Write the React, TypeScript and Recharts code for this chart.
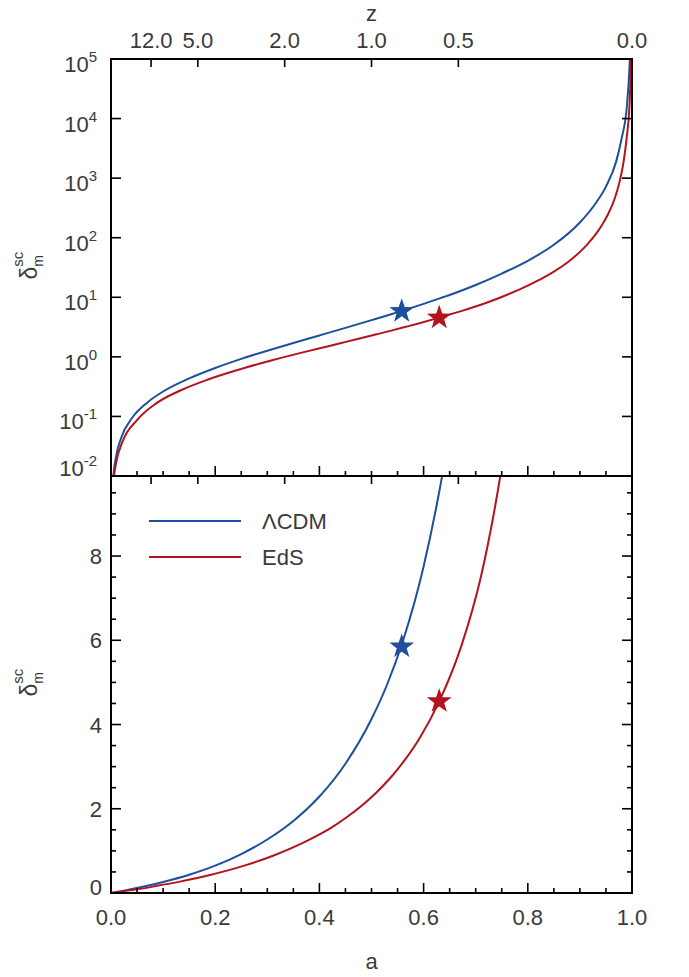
import React from 'react';
import { ComposedChart, Line, Scatter, XAxis, YAxis, Legend } from 'recharts';

const W = 689;
const H = 977;
// plot box (both panels share the x range)
const L = 111;
const R = 632;
const T = 59;
const M = 476;
const B = 893;

const FONT = '"Liberation Sans", Arial, Helvetica, sans-serif';
const INK = '#3a3a3a';
const BLUE = '#1f4e9d';
const RED = '#b3131c';

// scale factor a and nonlinear overdensity delta_m^sc
const lcdmA = [0.002, 0.004, 0.01, 0.02, 0.04, 0.07, 0.1, 0.15, 0.2, 0.25, 0.3, 0.35, 0.4, 0.45, 0.5, 0.53, 0.56, 0.6, 0.637, 0.65, 0.7, 0.75, 0.8, 0.85, 0.9, 0.93, 0.95, 0.97, 0.98, 0.99, 0.995, 0.998];
const lcdmDelta = [0.0043, 0.0087, 0.0217, 0.0448, 0.093, 0.172, 0.262, 0.434, 0.65, 0.925, 1.27, 1.71, 2.29, 3.07, 4.13, 4.95, 5.97, 7.75, 10.0, 10.95, 16.1, 25, 41, 76, 180, 375, 720, 1950, 4600, 15500, 65000, 300000];

const edsA = [0.002, 0.005, 0.01, 0.022, 0.05, 0.086, 0.132, 0.186, 0.259, 0.311, 0.38, 0.423, 0.451, 0.508, 0.536, 0.564, 0.592, 0.63, 0.672, 0.71, 0.722, 0.757, 0.8, 0.831, 0.85, 0.876, 0.899, 0.913, 0.943, 0.953, 0.966, 0.976, 0.984, 0.99, 0.995, 0.9977, 0.9983];
const edsDelta = [0.0034, 0.0084, 0.0169, 0.0376, 0.087, 0.164, 0.27, 0.416, 0.662, 0.885, 1.26, 1.55, 1.785, 2.37, 2.73, 3.16, 3.67, 4.55, 5.85, 7.51, 8.19, 10.73, 15.7, 21.5, 26.9, 38.4, 56.7, 75, 166, 238, 434, 857, 1911, 4934, 15460, 65500, 117700];

// turnaround markers
const starA = [0.558, 0.63];
const starDelta = [5.85, 4.55];

const seriesNames = ['ΛCDM', 'EdS'];

// axis ticks
const zLabels = [12, 5, 2, 1, 0.5, 0];
const logTicks = [0.01, 0.1, 1, 10, 100, 1000, 10000, 100000];
const aTicks = Array.from({ length: 21 }, (_, i) => i * 0.05);
const linTicks = Array.from({ length: 20 }, (_, i) => i * 0.5);

const zTicks = zLabels.map((z) => 1 / (1 + z));
const lcdm = lcdmA.map((a, i) => ({ a, d: lcdmDelta[i] }));
const eds = edsA.map((a, i) => ({ a, d: edsDelta[i] }));
const lcdmStar = [{ a: starA[0], d: starDelta[0] }];
const edsStar = [{ a: starA[1], d: starDelta[1] }];

const axisLine = { stroke: '#000', strokeWidth: 2, strokeLinecap: 'square' as const };

const ATick = ({ x, payload, base, dir, showLabel }: any) => {
    const v = payload.value;
    const major = Math.abs(v * 5 - Math.round(v * 5)) < 1e-6;
    const len = major ? 10 : 5;
    return (
        <g>
            <line x1={x} x2={x} y1={base} y2={base + dir * len} stroke="#000" strokeWidth={1.6} />
            {showLabel && major && (
                <text x={x} y={base + 32} textAnchor="middle" fontSize={22} fontFamily={FONT} fill={INK}>
                    {v.toFixed(1)}
                </text>
            )}
        </g>
    );
};

const ZTick = ({ x, payload, base, dir, showLabel }: any) => (
    <g>
        <line x1={x} x2={x} y1={base} y2={base + dir * 8} stroke="#000" strokeWidth={1.6} />
        {showLabel && (
            <text x={x} y={base - 11} textAnchor="middle" fontSize={22} fontFamily={FONT} fill={INK}>
                {(1 / payload.value - 1).toFixed(1)}
            </text>
        )}
    </g>
);

const LogTick = ({ y, payload, side }: any) => {
    const exp = Math.round(Math.log10(payload.value));
    const x0 = side === 'left' ? L : R;
    const sgn = side === 'left' ? 1 : -1;
    const shift = payload.value === 0.01 ? -13 : 0;
    return (
        <g>
            <line x1={x0} x2={x0 + sgn * 10} y1={y} y2={y} stroke="#000" strokeWidth={1.6} />
            {side === 'left' && (
                <text x={L - 14} y={y + 13 + shift} textAnchor="end" fontSize={22} fontFamily={FONT} fill={INK}>
                    10
                    <tspan fontSize={15} dy={-10}>
                        {exp}
                    </tspan>
                </text>
            )}
        </g>
    );
};

const LinTick = ({ y, payload, side }: any) => {
    const v = payload.value;
    const major = Math.abs(v / 2 - Math.round(v / 2)) < 1e-6;
    const len = major ? 10 : 5;
    const x0 = side === 'left' ? L : R;
    const sgn = side === 'left' ? 1 : -1;
    const shift = v === 0 ? -6 : 0;
    return (
        <g>
            <line x1={x0} x2={x0 + sgn * len} y1={y} y2={y} stroke="#000" strokeWidth={1.6} />
            {side === 'left' && major && (
                <text x={L - 9} y={y + 8 + shift} textAnchor="end" fontSize={22} fontFamily={FONT} fill={INK}>
                    {v.toFixed(0)}
                </text>
            )}
        </g>
    );
};

const DeltaTitle = ({ viewBox }: any) => {
    const cy = viewBox.y + viewBox.height / 2;
    return (
        <text transform={`translate(37, ${cy + 12}) rotate(-90)`} fontFamily={FONT} fill={INK}>
            <tspan fontSize={23}>δ</tspan>
            <tspan fontSize={15} dy={-14}>
                sc
            </tspan>
            <tspan fontSize={14} dx={-15} dy={20}>
                m
            </tspan>
        </text>
    );
};

const AxisTitle = ({ viewBox, text, baseline }: any) => (
    <text x={viewBox.x + viewBox.width / 2} y={baseline} textAnchor="middle" fontSize={22} fontFamily={FONT} fill={INK}>
        {text}
    </text>
);

const StarShape = ({ cx, cy, fill }: any) => {
    const ro = 13;
    const ri = 5.2;
    const pts: string[] = [];
    for (let i = 0; i < 10; i++) {
        const r = i % 2 === 0 ? ro : ri;
        const ang = -Math.PI / 2 + (i * Math.PI) / 5;
        pts.push(`${cx + r * Math.cos(ang)},${cy + r * Math.sin(ang)}`);
    }
    return <polygon points={pts.join(' ')} fill={fill} />;
};

const LegendBox = ({ payload }: any) => {
    const items = (payload || [])
        .filter((p: any) => p.type !== 'none')
        .sort((p: any, q: any) => seriesNames.indexOf(p.value) - seriesNames.indexOf(q.value));
    return (
        <svg width={220} height={70}>
            {items.map((p: any, i: number) => (
                <g key={p.value}>
                    <line x1={10} x2={102} y1={16 + i * 36} y2={16 + i * 36} stroke={p.color} strokeWidth={2} />
                    <text x={123} y={24 + i * 36} fontSize={22} fontFamily={FONT} fill={INK}>
                        {p.value}
                    </text>
                </g>
            ))}
        </svg>
    );
};

// axes need a non-zero size to be drawn, so they get 1px and the margins shrink by 1px.
// The ΛCDM series sits on the top (z) axis and EdS on the bottom (a) axis; both span a = 0..1.
function TopPanel() {
    return (
        <ComposedChart width={W} height={H} margin={{ top: T - 1, right: W - R - 1, bottom: H - M - 1, left: L - 1 }}>
            <XAxis
                xAxisId="a"
                dataKey="a"
                type="number"
                domain={[0, 1]}
                allowDataOverflow
                ticks={aTicks}
                interval={0}
                height={1}
                axisLine={axisLine}
                tickLine={false}
                tick={(p: any) => <ATick {...p} base={M} dir={-1} showLabel={false} />}
            />
            <XAxis
                xAxisId="z"
                dataKey="a"
                orientation="top"
                type="number"
                domain={[0, 1]}
                allowDataOverflow
                ticks={zTicks}
                interval={0}
                height={1}
                axisLine={axisLine}
                tickLine={false}
                tick={(p: any) => <ZTick {...p} base={T} dir={1} showLabel />}
                label={<AxisTitle text="z" baseline={21} />}
            />
            <YAxis
                yAxisId="l"
                type="number"
                scale="log"
                domain={[0.01, 100000]}
                allowDataOverflow
                ticks={logTicks}
                interval={0}
                width={1}
                axisLine={axisLine}
                tickLine={false}
                tick={(p: any) => <LogTick {...p} side="left" />}
                label={<DeltaTitle />}
            />
            <YAxis
                yAxisId="r"
                orientation="right"
                type="number"
                scale="log"
                domain={[0.01, 100000]}
                allowDataOverflow
                ticks={logTicks}
                interval={0}
                width={1}
                axisLine={axisLine}
                tickLine={false}
                tick={(p: any) => <LogTick {...p} side="right" />}
            />
            <Line xAxisId="z" yAxisId="l" data={lcdm} dataKey="d" name="ΛCDM" type="monotone" stroke={BLUE} strokeWidth={2} dot={false} activeDot={false} isAnimationActive={false} />
            <Line xAxisId="a" yAxisId="l" data={eds} dataKey="d" name="EdS" type="monotone" stroke={RED} strokeWidth={2} dot={false} activeDot={false} isAnimationActive={false} />
            <Scatter xAxisId="z" yAxisId="l" data={lcdmStar} dataKey="d" legendType="none" shape={<StarShape fill={BLUE} />} isAnimationActive={false} />
            <Scatter xAxisId="a" yAxisId="l" data={edsStar} dataKey="d" legendType="none" shape={<StarShape fill={RED} />} isAnimationActive={false} />
        </ComposedChart>
    );
}

function BottomPanel() {
    return (
        <ComposedChart width={W} height={H} margin={{ top: M - 1, right: W - R - 1, bottom: H - B - 1, left: L - 1 }}>
            <XAxis
                xAxisId="a"
                dataKey="a"
                type="number"
                domain={[0, 1]}
                allowDataOverflow
                ticks={aTicks}
                interval={0}
                height={1}
                axisLine={axisLine}
                tickLine={false}
                tick={(p: any) => <ATick {...p} base={B} dir={-1} showLabel />}
                label={<AxisTitle text="a" baseline={969} />}
            />
            <XAxis
                xAxisId="z"
                dataKey="a"
                orientation="top"
                type="number"
                domain={[0, 1]}
                allowDataOverflow
                ticks={zTicks}
                interval={0}
                height={1}
                axisLine={axisLine}
                tickLine={false}
                tick={(p: any) => <ZTick {...p} base={M} dir={1} showLabel={false} />}
            />
            <YAxis
                yAxisId="l"
                type="number"
                domain={[0, 9.9]}
                allowDataOverflow
                ticks={linTicks}
                interval={0}
                width={1}
                axisLine={axisLine}
                tickLine={false}
                tick={(p: any) => <LinTick {...p} side="left" />}
                label={<DeltaTitle />}
            />
            <YAxis
                yAxisId="r"
                orientation="right"
                type="number"
                domain={[0, 9.9]}
                allowDataOverflow
                ticks={linTicks}
                interval={0}
                width={1}
                axisLine={axisLine}
                tickLine={false}
                tick={(p: any) => <LinTick {...p} side="right" />}
            />
            <Line xAxisId="z" yAxisId="l" data={lcdm} dataKey="d" name="ΛCDM" type="monotone" stroke={BLUE} strokeWidth={2} dot={false} activeDot={false} isAnimationActive={false} />
            <Line xAxisId="a" yAxisId="l" data={eds} dataKey="d" name="EdS" type="monotone" stroke={RED} strokeWidth={2} dot={false} activeDot={false} isAnimationActive={false} />
            <Scatter xAxisId="z" yAxisId="l" data={lcdmStar} dataKey="d" legendType="none" shape={<StarShape fill={BLUE} />} isAnimationActive={false} />
            <Scatter xAxisId="a" yAxisId="l" data={edsStar} dataKey="d" legendType="none" shape={<StarShape fill={RED} />} isAnimationActive={false} />
            <Legend
                layout="vertical"
                align="center"
                verticalAlign="middle"
                content={<LegendBox />}
                wrapperStyle={{ position: 'absolute', left: 139, top: 505, width: 220, height: 70 }}
            />
        </ComposedChart>
    );
}

export default function App() {
    return (
        <div style={{ position: 'absolute', left: 0, top: 0, width: W, height: H, background: '#fff' }}>
            <div style={{ position: 'absolute', left: 0, top: 0 }}>
                <TopPanel />
            </div>
            <div style={{ position: 'absolute', left: 0, top: 0 }}>
                <BottomPanel />
            </div>
        </div>
    );
}
